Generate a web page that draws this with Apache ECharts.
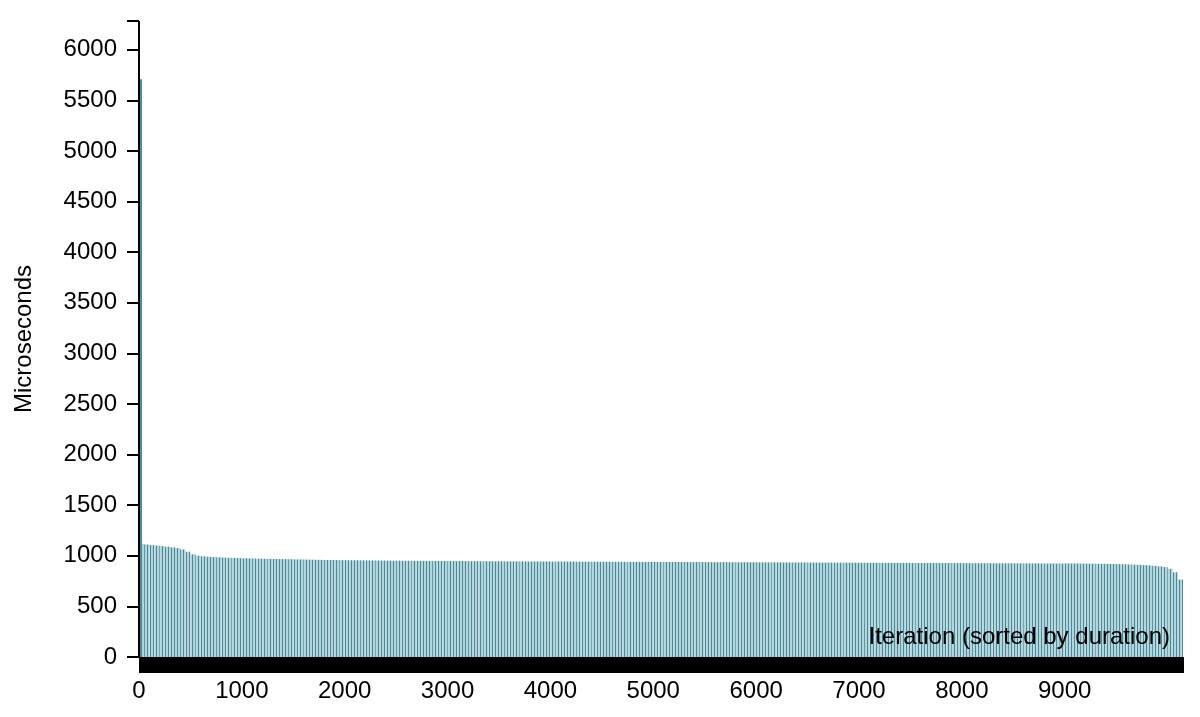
<!DOCTYPE html>
<html><head><meta charset="utf-8">
<script src="https://cdn.jsdelivr.net/npm/echarts@6/dist/echarts.min.js"></script>
<style>html,body{margin:0;padding:0;background:#fff}#chart{width:1200px;height:717px}</style>
</head><body><div id="chart"></div>
<script>
// Iterations grouped in bins of 50 (sorted by duration, descending), microseconds
const binSize = 50;
const durations = [
  1118,1112,1106,1101,1096,1090,1084,1076,1062,1040,1015,1001,995,991,988,985,983,981,979,977,
  975,974,973,972,971,970,969,968,967,966,965,964,963,962,961,960,959,958,958,957,
  957,956,956,955,955,954,954,953,953,952,952,951,951,951,950,950,950,949,949,949,
  948,948,948,947,947,947,947,946,946,946,946,945,945,945,945,944,944,944,944,944,
  943,943,943,943,943,942,942,942,942,942,941,941,941,941,941,940,940,940,940,940,
  939,939,939,939,939,938,938,938,938,938,937,937,937,937,937,936,936,936,936,936,
  935,935,935,935,935,934,934,934,934,934,933,933,933,933,933,932,932,932,932,932,
  931,931,931,931,931,930,930,930,930,930,929,929,929,929,929,928,928,928,928,928,
  927,927,927,927,927,926,926,926,926,926,925,925,925,925,925,924,924,924,924,923,
  925,924,924,923,923,922,922,921,920,919,918,917,915,913,911,908,905,901,896,889,
  872,838,765
];
const spike = [20, 5710];           // the single slowest iteration
const yTicks = [0,500,1000,1500,2000,2500,3000,3500,4000,4500,5000,5500,6000];
const xTickLabels = [0,1000,2000,3000,4000,5000,6000,7000,8000,9000];
const yMax = 6285;
const xMax = 10160;

const light = '#b3d5de', dark = '#4e8795';
const stripe = document.createElement('canvas');
stripe.width = 3; stripe.height = 4;
const sctx = stripe.getContext('2d');
sctx.fillStyle = light; sctx.fillRect(0, 0, 3, 4);
sctx.fillStyle = dark; sctx.fillRect(0, 0, 1, 4);

const font = '"Liberation Sans", Arial, Helvetica, sans-serif';
const fs = 24;

const chart = echarts.init(document.getElementById('chart'), null, {renderer: 'canvas'});
chart.setOption({
  animation: false,
  grid: {left: 139, right: 16, top: 21, bottom: 60},
  xAxis: [{
    type: 'value', min: 0, max: xMax, interval: 1000, offset: 8, z: 5,
    axisLine: {show: true, onZero: false, lineStyle: {color: '#000', width: 16, cap: 'butt'}},
    axisTick: {show: false},
    splitLine: {show: false},
    axisLabel: {customValues: xTickLabels, margin: 14, fontSize: fs, color: '#000', fontFamily: font,
      formatter: v => String(v)},
    name: 'Iteration (sorted by duration)', nameLocation: 'end', nameGap: -14,
    nameTextStyle: {align: 'right', verticalAlign: 'bottom', padding: [0, 0, 16, 0],
      fontSize: fs, color: '#000', fontFamily: font}
  }, {
    type: 'value', min: 0, max: xMax, show: false
  }],
  yAxis: {
    type: 'value', min: 0, max: yMax, interval: 500, z: 5,
    axisLine: {show: true, onZero: false, lineStyle: {color: '#000', width: 2, cap: 'butt'}},
    axisTick: {show: true, length: 12, customValues: yTicks.concat([yMax]),
      lineStyle: {color: '#000', width: 2, cap: 'butt'}},
    splitLine: {show: false},
    axisLabel: {customValues: yTicks, margin: 22, fontSize: fs, color: '#000', fontFamily: font,
      formatter: v => String(v)},
    name: 'Microseconds', nameLocation: 'middle', nameGap: 103, nameRotate: 90,
    nameTextStyle: {fontSize: fs, color: '#000', fontFamily: font}
  },
  series: [{
    type: 'bar', xAxisIndex: 0, barWidth: '100%', silent: true,
    data: durations.map((v, i) => [i * binSize + binSize / 2, v]),
    itemStyle: {color: {image: stripe, repeat: 'repeat'}}
  }, {
    type: 'bar', xAxisIndex: 1, barWidth: 2, silent: true,
    data: [spike],
    itemStyle: {color: dark}
  }]
});
</script></body></html>
